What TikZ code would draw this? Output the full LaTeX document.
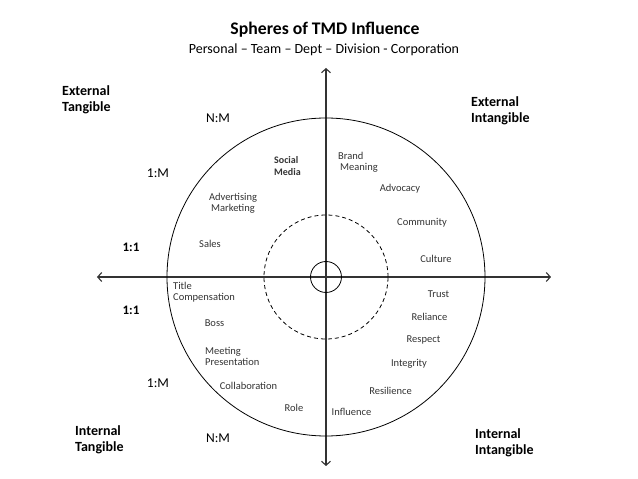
\documentclass[tikz,border=0pt]{standalone}
\usepackage{fontspec}
\setmainfont{Carlito}
\usetikzlibrary{arrows.meta}

\tikzset{
  lbl/.style={font=\fontsize{10.5}{11}\selectfont, inner sep=0pt, text=black!80},
  quad/.style={font=\bfseries\fontsize{14}{16}\selectfont, inner sep=0pt, align=left, anchor=west},
  ratio/.style={font=\fontsize{13.5}{15}\selectfont, inner sep=0pt},
  axis/.style={line width=1.1pt, black!80, {Straight Barb[length=4pt,width=9pt]}-{Straight Barb[length=4pt,width=9pt]}}
}

\begin{document}
\begin{tikzpicture}[x=1pt,y=1pt]
\useasboundingbox (-326,-202) rectangle (312,277);

% title
\node[font=\bfseries\fontsize{17.7}{20}\selectfont, inner sep=0pt] (title) at (-1,247) {Spheres of TMD Influence};
\node[font=\fontsize{14}{16}\selectfont, inner sep=0pt] (sub) at (-2,227) {Personal -- Team -- Dept -- Division - Corporation};

% axes
\coordinate (O) at (0,0);
\coordinate (W) at (-229,0);
\coordinate (E) at (225,0);
\coordinate (N) at (0,209);
\coordinate (S) at (0,-189);
\draw[axis] (W) -- (E);
\draw[axis] (S) -- (N);

% spheres
\draw[line width=0.8pt] (O) circle (159);
\draw[line width=0.8pt, dash pattern=on 4pt off 3pt] (O) circle (62);
\draw[line width=0.8pt] (O) circle (15.5);

% quadrant names
\node[quad] (et) at (-264,177) {External\\Tangible};
\node[quad] (ei) at (145,166) {External\\Intangible};
\node[quad] (it) at (-251,-163) {Internal\\Tangible};
\node[quad] (ii) at (149,-166) {Internal\\Intangible};

% ratios
\node[ratio] (nmT) at (-108,159) {N:M};
\node[ratio] (nmB) at (-108,-161) {N:M};
\node[ratio] (omT) at (-168,104) {1:M};
\node[ratio] (omB) at (-168,-106) {1:M};
\node[ratio, font=\bfseries\fontsize{13}{15}\selectfont] (ooT) at (-195,30) {1:1};
\node[ratio, font=\bfseries\fontsize{13}{15}\selectfont] (ooB) at (-195,-33) {1:1};

% external tangible
\node[lbl, font=\bfseries\fontsize{10}{12}\selectfont, align=left, anchor=west] (social) at (-52,111) {Social\\Media};
\node[lbl, align=center] (advert) at (-93,73.5) {Advertising\\Marketing};
\node[lbl] (sales) at (-116,33) {Sales};

% external intangible
\node[lbl, align=left, anchor=west] (brand) at (12,115) {Brand\\\hspace{2pt}Meaning};
\node[lbl] (advoc) at (74,88) {Advocacy};
\node[lbl] (commu) at (96,54) {Community};
\node[lbl] (cult) at (110,18) {Culture};

% internal tangible
\node[lbl, align=left, anchor=west] (titlecomp) at (-153,-15.5) {Title\\Compensation};
\node[lbl] (boss) at (-111.5,-46) {Boss};
\node[lbl, align=left, anchor=west] (meet) at (-121,-79.5) {Meeting\\Presentation};
\node[lbl] (collab) at (-77.5,-109) {Collaboration};
\node[lbl] (role) at (-32,-131) {Role};

% internal intangible
\node[lbl] (trust) at (112.5,-17) {Trust};
\node[lbl] (reli) at (103.5,-40) {Reliance};
\node[lbl] (resp) at (97.5,-63) {Respect};
\node[lbl] (integ) at (83,-87) {Integrity};
\node[lbl] (resil) at (64.5,-114) {Resilience};
\node[lbl] (influ) at (25.5,-135) {Influence};
\end{tikzpicture}
\end{document}
